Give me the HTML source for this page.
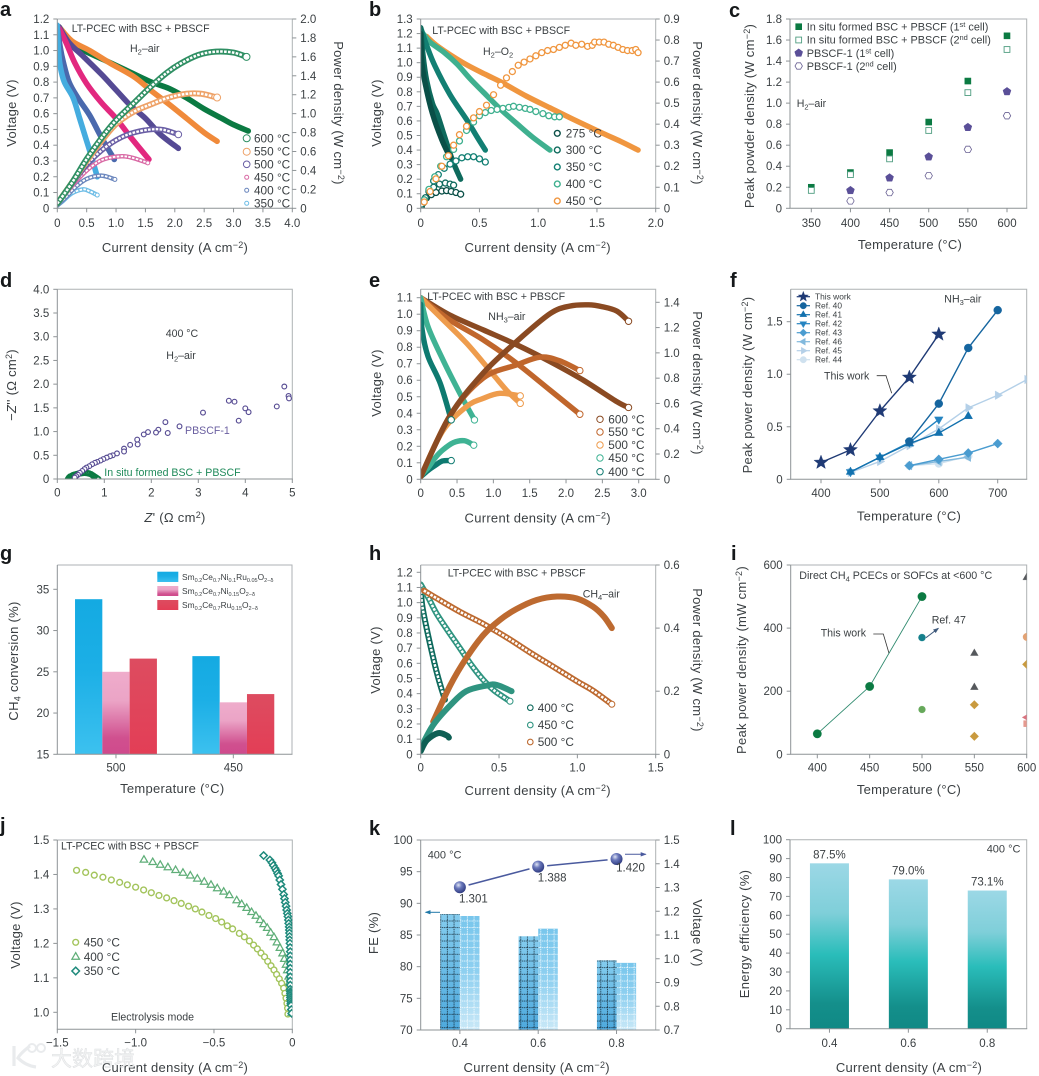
<!DOCTYPE html>
<html lang="en">
<head>
<meta charset="utf-8">
<title>LT-PCEC performance figure</title>
<style>
html,body{margin:0;padding:0;background:#fff}
svg{display:block}
text{font-family:"Liberation Sans","Noto Sans CJK SC",sans-serif;fill:#3a3f42;font-size:10.6px}
.tick{font-size:11.5px}
.title{font-size:13px;letter-spacing:.28px}
.legend{font-size:11.8px}
.letter{font-size:20px;font-weight:700;fill:#15181a}
.note{font-size:10.6px}
.mid{text-anchor:middle}
</style>
</head>
<body>
<svg id="figure" width="1039" height="1076" viewBox="0 0 1039 1076" xmlns="http://www.w3.org/2000/svg">
<defs>
<linearGradient id="gBlue" x1="0" y1="0" x2="0" y2="1"><stop offset="0" stop-color="#14aae2"/><stop offset=".45" stop-color="#1cafe6"/><stop offset="1" stop-color="#3cc1ef"/></linearGradient>
<linearGradient id="gPink" x1="0" y1="0" x2="0" y2="1"><stop offset="0" stop-color="#efaccb"/><stop offset=".35" stop-color="#eba4c6"/><stop offset=".8" stop-color="#d0508f"/><stop offset="1" stop-color="#cf4a8c"/></linearGradient>
<linearGradient id="gRed" x1="0" y1="0" x2="0" y2="1"><stop offset="0" stop-color="#dd4c60"/><stop offset="1" stop-color="#e33e56"/></linearGradient>
<linearGradient id="lTeal" x1="0" y1="0" x2="0" y2="1"><stop offset="0" stop-color="#9cd8e6"/><stop offset=".3" stop-color="#7fcfd9"/><stop offset=".55" stop-color="#2abdba"/><stop offset=".85" stop-color="#148f8b"/><stop offset="1" stop-color="#108985"/></linearGradient>
<linearGradient id="kDark" x1="0" y1="0" x2="0" y2="1"><stop offset="0" stop-color="#84ccee"/><stop offset="1" stop-color="#4ea9dd"/></linearGradient>
<linearGradient id="kLight" x1="0" y1="0" x2="0" y2="1"><stop offset="0" stop-color="#78c6ec"/><stop offset=".5" stop-color="#8fd0f0"/><stop offset="1" stop-color="#c9e8f7"/></linearGradient>
<pattern id="kGridDark" width="6.67" height="6.67" patternUnits="userSpaceOnUse">
<path d="M0 .5H6.67M.5 0V6.67" fill="none" stroke="#10202c" stroke-width=".8" stroke-dasharray="1 .8"/>
</pattern>
<pattern id="kGridLight" width="6.67" height="6.67" patternUnits="userSpaceOnUse">
<path d="M0 .5H6.67M.5 0V6.67" fill="none" stroke="#ffffff" stroke-width=".8" stroke-dasharray="1 .8"/>
</pattern>
<radialGradient id="sphere" cx=".38" cy=".32" r=".7"><stop offset="0" stop-color="#dfe4f4"/><stop offset=".4" stop-color="#6a78bb"/><stop offset="1" stop-color="#2e3a80"/></radialGradient>
<marker id="arrowBlue" viewBox="0 0 6 6" refX="5" refY="3" markerWidth="6" markerHeight="6" orient="auto"><path d="M0 .8L6 3L0 5.2Z" fill="#4a5a9e"/></marker>
<marker id="arrowTeal" viewBox="0 0 6 6" refX="5" refY="3" markerWidth="6" markerHeight="6" orient="auto"><path d="M0 .8L6 3L0 5.2Z" fill="#1f78a8"/></marker>
<marker id="arrowSlate" viewBox="0 0 6 6" refX="5" refY="3" markerWidth="6" markerHeight="6" orient="auto"><path d="M0 .8L6 3L0 5.2Z" fill="#3f5a7c"/></marker>
</defs>

<g id="panel-a">
<g id="marks-a"></g>
<text class="letter" x="0" y="16">a</text>
<text class="note" x="71.7" y="32">LT-PCEC with BSC + PBSCF</text>
<text class="note" x="130" y="52">H<tspan dy="2.5" font-size="7.5">2</tspan><tspan dy="-2.5">–air</tspan></text>
<text class="title mid" x="175" y="252">Current density (A cm<tspan dy="-4" font-size="9">−2</tspan><tspan dy="4">)</tspan></text>
<text class="title mid" transform="rotate(-90 16 113)" x="16" y="113">Voltage (V)</text>
<text class="title mid" transform="rotate(90 334 113)" x="334" y="113">Power density (W cm<tspan dy="-4" font-size="9">−2</tspan><tspan dy="4">)</tspan></text>
<text class="legend" x="254" y="142.5">600 °C</text>
<text class="legend" x="254" y="155.7">550 °C</text>
<text class="legend" x="254" y="168.5">500 °C</text>
<text class="legend" x="254" y="181.5">450 °C</text>
<text class="legend" x="254" y="194.5">400 °C</text>
<text class="legend" x="254" y="207.3">350 °C</text>
</g>

<g id="panel-b">
<g id="marks-b"></g>
<text class="letter" x="369" y="16">b</text>
<text class="note" x="432.3" y="34">LT-PCEC with BSC + PBSCF</text>
<text class="note" x="483" y="55">H<tspan dy="2.5" font-size="7.5">2</tspan><tspan dy="-2.5">–O</tspan><tspan dy="2.5" font-size="7.5">2</tspan></text>
<text class="title mid" x="537.7" y="252">Current density (A cm<tspan dy="-4" font-size="9">−2</tspan><tspan dy="4">)</tspan></text>
<text class="title mid" transform="rotate(-90 381 113)" x="381" y="113">Voltage (V)</text>
<text class="title mid" transform="rotate(90 693 113)" x="693" y="113">Power density (W cm<tspan dy="-4" font-size="9">−2</tspan><tspan dy="4">)</tspan></text>
<text class="legend" x="565.7" y="137.5">275 °C</text>
<text class="legend" x="565.7" y="154.2">300 °C</text>
<text class="legend" x="565.7" y="171.2">350 °C</text>
<text class="legend" x="565.7" y="188.2">400 °C</text>
<text class="legend" x="565.7" y="205.2">450 °C</text>
</g>

<g id="panel-c">
<g id="marks-c"></g>
<text class="letter" x="729" y="17">c</text>
<text class="title mid" x="910" y="249">Temperature (°C)</text>
<text class="title mid" transform="rotate(-90 754 116)" x="754" y="116">Peak powder density (W cm<tspan dy="-4" font-size="9">−2</tspan><tspan dy="4">)</tspan></text>
<text x="806.7" y="30.5" style="font-size:10.9px">In situ formed BSC + PBSCF (1<tspan dy="-3.5" font-size="7.5">st</tspan><tspan dy="3.5"> cell)</tspan></text>
<text x="806.7" y="43.7" style="font-size:10.9px">In situ formed BSC + PBSCF (2<tspan dy="-3.5" font-size="7.5">nd</tspan><tspan dy="3.5"> cell)</tspan></text>
<text x="806.7" y="56.8" style="font-size:10.9px">PBSCF-1 (1<tspan dy="-3.5" font-size="7.5">st</tspan><tspan dy="3.5"> cell)</tspan></text>
<text x="806.7" y="70" style="font-size:10.9px">PBSCF-1 (2<tspan dy="-3.5" font-size="7.5">nd</tspan><tspan dy="3.5"> cell)</tspan></text>
<text class="note" x="796.7" y="107">H<tspan dy="2.5" font-size="7.5">2</tspan><tspan dy="-2.5">–air</tspan></text>
</g>

<g id="panel-d">
<g id="marks-d"></g>
<text class="letter" x="0" y="287">d</text>
<text class="note" x="165.7" y="337">400 °C</text>
<text class="note" x="166.3" y="359">H<tspan dy="2.5" font-size="7.5">2</tspan><tspan dy="-2.5">–air</tspan></text>
<text class="note" x="185" y="434" style="fill:#6a5fa0">PBSCF-1</text>
<text class="note" x="104.3" y="476" style="fill:#1f8a5a">In situ formed BSC + PBSCF</text>
<text class="title mid" x="175" y="522"><tspan font-style="italic">Z</tspan>' (Ω cm<tspan dy="-4" font-size="9">2</tspan><tspan dy="4">)</tspan></text>
<text class="title mid" transform="rotate(-90 16 385)" x="16" y="385">−<tspan font-style="italic">Z</tspan>'' (Ω cm<tspan dy="-4" font-size="9">2</tspan><tspan dy="4">)</tspan></text>
</g>

<g id="panel-e">
<g id="marks-e"></g>
<text class="letter" x="369" y="287">e</text>
<text class="note" x="427.3" y="300">LT-PCEC with BSC + PBSCF</text>
<text class="note" x="488.3" y="320">NH<tspan dy="2.5" font-size="7.5">3</tspan><tspan dy="-2.5">–air</tspan></text>
<text class="title mid" x="537.7" y="522.3">Current density (A cm<tspan dy="-4" font-size="9">−2</tspan><tspan dy="4">)</tspan></text>
<text class="title mid" transform="rotate(-90 381 383)" x="381" y="383">Voltage (V)</text>
<text class="title mid" transform="rotate(90 693 383)" x="693" y="383">Power density (W cm<tspan dy="-4" font-size="9">−2</tspan><tspan dy="4">)</tspan></text>
<text class="legend" x="608.3" y="423.5">600 °C</text>
<text class="legend" x="608.3" y="436.2">550 °C</text>
<text class="legend" x="608.3" y="449.2">500 °C</text>
<text class="legend" x="608.3" y="462.2">450 °C</text>
<text class="legend" x="608.3" y="475.9">400 °C</text>
</g>

<g id="panel-f">
<g id="marks-f"></g>
<text class="letter" x="730" y="287">f</text>
<text class="note" x="944.3" y="302.7">NH<tspan dy="2.5" font-size="7.5">3</tspan><tspan dy="-2.5">–air</tspan></text>
<text class="note" x="824" y="379.3">This work</text>
<path d="M876.7 375.7H886L891.7 393.3" fill="none" stroke="#333" stroke-width=".8"/>
<text class="title mid" x="909" y="520.7">Temperature (°C)</text>
<text class="title mid" transform="rotate(-90 752 385)" x="752" y="385">Peak power density (W cm<tspan dy="-4" font-size="9">−2</tspan><tspan dy="4">)</tspan></text>
<text x="815" y="299.7" style="font-size:8.4px">This work</text>
<text x="815" y="308.7" style="font-size:8.4px">Ref. 40</text>
<text x="815" y="317.7" style="font-size:8.4px">Ref. 41</text>
<text x="815" y="326.7" style="font-size:8.4px">Ref. 42</text>
<text x="815" y="335.7" style="font-size:8.4px">Ref. 43</text>
<text x="815" y="344.7" style="font-size:8.4px">Ref. 46</text>
<text x="815" y="353.7" style="font-size:8.4px">Ref. 45</text>
<text x="815" y="362.7" style="font-size:8.4px">Ref. 44</text>
</g>

<g id="panel-g">
<g id="marks-g"></g>
<text class="letter" x="0" y="560">g</text>
<rect x="157.3" y="571.7" width="21" height="10.3" fill="url(#gBlue)"/>
<rect x="157.3" y="586" width="21" height="10" fill="url(#gPink)"/>
<rect x="157.3" y="600" width="21" height="10" fill="url(#gRed)"/>
<text x="182" y="580" style="font-size:8.4px">Sm<tspan dy="2" font-size="5.5">0.2</tspan><tspan dy="-2">Ce</tspan><tspan dy="2" font-size="5.5">0.7</tspan><tspan dy="-2">Ni</tspan><tspan dy="2" font-size="5.5">0.1</tspan><tspan dy="-2">Ru</tspan><tspan dy="2" font-size="5.5">0.05</tspan><tspan dy="-2">O</tspan><tspan dy="2" font-size="5.5">2−δ</tspan></text>
<text x="182" y="594" style="font-size:8.4px">Sm<tspan dy="2" font-size="5.5">0.2</tspan><tspan dy="-2">Ce</tspan><tspan dy="2" font-size="5.5">0.7</tspan><tspan dy="-2">Ni</tspan><tspan dy="2" font-size="5.5">0.15</tspan><tspan dy="-2">O</tspan><tspan dy="2" font-size="5.5">2−δ</tspan></text>
<text x="182" y="608" style="font-size:8.4px">Sm<tspan dy="2" font-size="5.5">0.2</tspan><tspan dy="-2">Ce</tspan><tspan dy="2" font-size="5.5">0.7</tspan><tspan dy="-2">Ru</tspan><tspan dy="2" font-size="5.5">0.15</tspan><tspan dy="-2">O</tspan><tspan dy="2" font-size="5.5">2−δ</tspan></text>
<text class="title mid" x="172.3" y="793">Temperature (°C)</text>
<text class="title mid" transform="rotate(-90 18 661)" x="18" y="661">CH<tspan dy="2.5" font-size="9">4</tspan><tspan dy="-2.5"> conversion (%)</tspan></text>
</g>

<g id="panel-h">
<g id="marks-h"></g>
<text class="letter" x="369" y="560">h</text>
<text class="note" x="447.7" y="576.7">LT-PCEC with BSC + PBSCF</text>
<text class="note" x="582.7" y="597.7">CH<tspan dy="2.5" font-size="7.5">4</tspan><tspan dy="-2.5">–air</tspan></text>
<text class="title mid" x="537.7" y="795">Current density (A cm<tspan dy="-4" font-size="9">−2</tspan><tspan dy="4">)</tspan></text>
<text class="title mid" transform="rotate(-90 380 660)" x="380" y="660">Voltage (V)</text>
<text class="title mid" transform="rotate(90 693 660)" x="693" y="660">Power density (W cm<tspan dy="-4" font-size="9">−2</tspan><tspan dy="4">)</tspan></text>
<text class="legend" x="537.7" y="711.9">400 °C</text>
<text class="legend" x="537.7" y="729.2">450 °C</text>
<text class="legend" x="537.7" y="746.2">500 °C</text>
</g>

<g id="panel-i">
<g id="marks-i"></g>
<text class="letter" x="731" y="560">i</text>
<text class="note" x="799.3" y="579" style="font-size:10.7px">Direct CH<tspan dy="2.5" font-size="7.5">4</tspan><tspan dy="-2.5"> PCECs or SOFCs at &lt;600 °C</tspan></text>
<text class="note" x="931.7" y="623.7">Ref. 47</text>
<path d="M926 637.7L938.3 628.3" fill="none" stroke="#3f5a7c" stroke-width="1" marker-end="url(#arrowSlate)"/>
<text class="note" x="820.7" y="636.7">This work</text>
<path d="M873.3 634H883.3L889 653.3" fill="none" stroke="#333" stroke-width=".8"/>
<text class="title mid" x="909" y="794">Temperature (°C)</text>
<text class="title mid" transform="rotate(-90 746 660)" x="746" y="660">Peak power density (mW cm<tspan dy="-4" font-size="9">−2</tspan><tspan dy="4">)</tspan></text>
</g>

<g id="panel-j">
<g id="marks-j"></g>
<text class="letter" x="0" y="832">j</text>
<text class="note" x="61" y="849.3">LT-PCEC with BSC + PBSCF</text>
<text class="note" x="111" y="1020.3">Electrolysis mode</text>
<text class="legend" x="83.7" y="946.5">450 °C</text>
<text class="legend" x="83.7" y="960.9">400 °C</text>
<text class="legend" x="83.7" y="975.2">350 °C</text>
<text class="title mid" x="175" y="1072">Current density (A cm<tspan dy="-4" font-size="9">−2</tspan><tspan dy="4">)</tspan></text>
<text class="title mid" transform="rotate(-90 20 935)" x="20" y="935">Voltage (V)</text>
</g>

<g id="panel-k">
<g id="marks-k"></g>
<text class="letter" x="369" y="835">k</text>
<text class="note" x="427.7" y="858.3" style="font-size:11px">400 °C</text>
<path d="M625 854.3H645.7" fill="none" stroke="#4a5a9e" stroke-width="1" marker-end="url(#arrowBlue)"/>
<path d="M440 912.3H425.7" fill="none" stroke="#1f78a8" stroke-width="1" marker-end="url(#arrowTeal)"/>
<text class="title mid" x="536.7" y="1072">Current density (A cm<tspan dy="-4" font-size="9">−2</tspan><tspan dy="4">)</tspan></text>
<text class="title mid" transform="rotate(-90 378 933)" x="378" y="933">FE (%)</text>
<text class="title mid" transform="rotate(90 693 933)" x="693" y="933">Voltage (V)</text>
</g>

<g id="panel-l">
<g id="marks-l"></g>
<text class="letter" x="730" y="835">l</text>
<text class="note" x="986.7" y="852.3" style="font-size:11px">400 °C</text>
<text class="title mid" x="909" y="1072">Current density (A cm<tspan dy="-4" font-size="9">−2</tspan><tspan dy="4">)</tspan></text>
<text class="title mid" transform="rotate(-90 749 934)" x="749" y="934">Energy efficiency (%)</text>
</g>

<g opacity=".92">
<path d="M14 1046V1066M30 1046C22 1052 19 1056 18 1058C22 1062 28 1066 36 1067" fill="none" stroke="#e8eaec" stroke-width="3.2"/>
<circle cx="32" cy="1048" r="4" fill="none" stroke="#e8eaec" stroke-width="2"/>
<circle cx="41" cy="1048" r="4" fill="none" stroke="#e8eaec" stroke-width="2"/>
<text x="51" y="1066" style="font-size:21px;fill:#f1f2f3;stroke:#dcdee0;stroke-width:.5;font-family:'Liberation Sans','Noto Sans CJK SC',sans-serif">大数跨境</text>
</g>
</svg>

<script>
/* ---------- panel a: H2-air ---------- */
const aVTicks=[0,.1,.2,.3,.4,.5,.6,.7,.8,.9,1,1.1,1.2];
const aPTicks=[0,.2,.4,.6,.8,1,1.2,1.4,1.6,1.8,2];
const aITicks=[0,.5,1,1.5,2,2.5,3,3.5,4];
const aV600I=[.03,.2,.4,.8,1.2,1.6,1.9,2.2,2.5,2.8,3,3.25];
const aV600U=[1.15,1.07,1.01,.94,.87,.8,.76,.7,.63,.57,.53,.49];
const aV550I=[.03,.25,.55,.9,1.3,1.6,1.9,2.2,2.5,2.72];
const aV550U=[1.15,1.06,1,.92,.835,.745,.66,.57,.48,.425];
const aV500I=[.03,.2,.45,.75,1,1.25,1.5,1.75,2.06];
const aV500U=[1.15,1.05,.96,.85,.75,.65,.57,.47,.38];
const aV450I=[.03,.15,.3,.5,.75,1,1.25,1.56];
const aV450U=[1.14,1.05,.92,.79,.67,.57,.45,.31];
const aV400I=[0,.05,.1,.2,.35,.55,.75,.97];
const aV400U=[1.15,1.02,.93,.8,.7,.59,.45,.31];
const aV350I=[0,.02,.05,.12,.27,.38,.48,.58,.68];
const aV350U=[1.16,1,.9,.8,.7,.57,.45,.33,.2];
const aP600I=[0,.25,.5,.75,1,1.3,1.6,1.86,2.1,2.4,2.7,3,3.22];
const aP600P=[.05,.27,.52,.74,.93,1.11,1.29,1.43,1.53,1.62,1.655,1.645,1.6];
const aP550I=[0,.25,.5,.75,1,1.3,1.6,1.9,2.2,2.45,2.72];
const aP550P=[.05,.27,.5,.71,.89,1.02,1.1,1.17,1.21,1.21,1.17];
const aP500I=[0,.25,.5,.75,1,1.25,1.55,1.8,2.06];
const aP500P=[.05,.26,.46,.61,.72,.79,.83,.83,.78];
const aP450I=[0,.2,.4,.6,.8,1.1,1.3,1.54];
const aP450P=[.05,.2,.34,.45,.52,.55,.53,.48];
const aP400I=[0,.15,.3,.5,.75,.98];
const aP400P=[.03,.12,.22,.31,.345,.305];
const aP350I=[0,.1,.25,.44,.55,.68];
const aP350P=[.03,.08,.16,.2,.18,.14];

/* ---------- panel b: H2-O2 ---------- */
const bVTicks=[0,.1,.2,.3,.4,.5,.6,.7,.8,.9,1,1.1,1.2,1.3];
const bPTicks=[0,.1,.2,.3,.4,.5,.6,.7,.8,.9];
const bITicks=[0,.5,1,1.5,2];
const bV450I=[.05,.15,.36,.55,.7,.9,1.1,1.3,1.55,1.7,1.85];
const bV450U=[1.18,1.11,1,.92,.86,.77,.69,.61,.515,.46,.4];
const bV400I=[.02,.08,.2,.31,.42,.53,.68,.82,.95,1.1];
const bV400U=[1.2,1.14,1.07,.99,.89,.8,.68,.58,.49,.4];
const bV350I=[0,.05,.12,.25,.39,.48,.55];
const bV350U=[1.24,1.12,.98,.78,.61,.49,.4];
const bV300I=[0,.02,.05,.1,.14,.2,.27,.34];
const bV300U=[1.24,1.05,.88,.72,.65,.5,.33,.2];
const bV275I=[0,.01,.04,.1,.18,.25];
const bV275U=[1.2,1,.85,.65,.47,.35];
const bP450I=[.03,.08,.13,.18,.235,.28,.33,.39,.45,.5,.56,.62,.68,.73,.78,.83,.88,.93,.98,1.03,1.08,1.13,1.18,1.23,1.28,1.32,1.37,1.42,1.46,1.48,1.52,1.56,1.6,1.64,1.68,1.72,1.76,1.8,1.83,1.85];
const bP450P=[.03,.08,.14,.2,.25,.3,.35,.39,.43,.46,.49,.54,.585,.62,.65,.68,.695,.71,.725,.74,.75,.755,.765,.775,.785,.775,.78,.77,.775,.79,.79,.79,.78,.775,.765,.755,.75,.75,.755,.74];
const bP400I=[.03,.07,.12,.17,.22,.28,.33,.39,.45,.5,.55,.6,.65,.7,.75,.79,.84,.89,.93,.98,1.04,1.09,1.14,1.18];
const bP400P=[.04,.09,.15,.2,.245,.28,.32,.37,.41,.44,.455,.465,.47,.475,.48,.485,.48,.475,.47,.46,.45,.44,.435,.435];
const bP350I=[.03,.07,.11,.15,.2,.25,.3,.35,.4,.45,.5,.55];
const bP350P=[.04,.085,.13,.16,.19,.21,.225,.24,.245,.245,.235,.22];
const bP300I=[.01,.04,.07,.11,.16,.21,.25,.28];
const bP300P=[.02,.05,.08,.1,.115,.12,.115,.11];
const bP275I=[.005,.02,.05,.09,.13,.18,.22,.26,.3,.34];
const bP275P=[.008,.025,.05,.065,.075,.082,.084,.08,.075,.067];

/* ---------- panel c: peak power vs temperature ---------- */
const cTemps=[350,400,450,500,550,600];
const cYTicks=[0,.2,.4,.6,.8,1,1.2,1.4,1.6,1.8];
const cBsc1=[.2,.34,.53,.82,1.21,1.64];
const cBsc2=[.17,.32,.47,.74,1.1,1.51];
const cPbscfTemps=[400,450,500,550,600];
const cPbscf1=[.17,.29,.49,.77,1.11];
const cPbscf2=[.07,.15,.31,.56,.88];

/* ---------- panel d: impedance ---------- */
const dXTicks=[0,1,2,3,4,5];
const dYTicks=[0,.5,1,1.5,2,2.5,3,3.5,4];
const dPbscfRe=[4.83,4.92,4.93,4.67,3.65,3.77,4,4.07,3.86,3.1,2.3,2.6,2.35,2.15,2.1,1.93,1.84,1.7,1.71,1.55,1.42,1.42,1.27,1.18,1.12,1.05,.98,.92,.85,.8,.74,.68,.62,.58,.53,.48,.44,.4,.37];
const dPbscfIm=[1.95,1.75,1.7,1.53,1.65,1.63,1.49,1.41,1.23,1.4,1.2,1.11,.97,1.04,.98,.99,.94,.83,.73,.72,.64,.58,.54,.5,.48,.45,.42,.39,.36,.34,.31,.27,.24,.21,.17,.13,.09,.06,.03];
const dBscRe=[.23,.25,.27,.3,.33,.36,.4,.44,.48,.52,.56,.6,.64,.68,.72,.75,.78,.81,.84,.87];
const dBscIm=[0,.03,.05,.06,.08,.09,.1,.11,.12,.125,.13,.13,.125,.115,.1,.08,.06,.04,.02,0];

/* ---------- panel e: NH3-air ---------- */
const eVTicks=[0,.1,.2,.3,.4,.5,.6,.7,.8,.9,1,1.1];
const ePTicks=[0,.2,.4,.6,.8,1,1.2,1.4];
const eITicks=[0,.5,1,1.5,2,2.5,3];
const eV600I=[0,.4,.86,1.32,1.78,2.24,2.7,2.86];
const eV600U=[1.1,.995,.905,.815,.713,.6,.47,.435];
const eV550I=[0,.4,.86,1.32,1.78,2.19];
const eV550U=[1.1,.965,.845,.703,.54,.394];
const eV500I=[0,.31,.63,.95,1.18,1.37];
const eV500U=[1.1,.965,.825,.66,.54,.46];
const eV450I=[0,.1,.31,.54,.74];
const eV450U=[1.1,.925,.72,.52,.36];
const eV400I=[0,.02,.1,.27,.42];
const eV400U=[1.06,.905,.745,.58,.36];
const eP600I=[0,.4,.86,1.32,1.78,2.05,2.31,2.5,2.7,2.86];
const eP600P=[.02,.5,.84,1.09,1.31,1.37,1.38,1.365,1.33,1.25];
const eP550I=[0,.4,.86,1.32,1.64,1.9,2.19];
const eP550P=[.02,.5,.8,.905,.966,.94,.86];
const eP500I=[0,.3,.63,.86,1.09,1.37];
const eP500P=[.02,.38,.575,.64,.68,.66];
const eP450I=[0,.1,.2,.3,.45,.6,.73];
const eP450P=[.03,.09,.17,.23,.29,.305,.27];
const eP400I=[0,.1,.2,.3,.42];
const eP400P=[.02,.07,.11,.145,.148];

/* ---------- panel f: NH3 comparison ---------- */
const fXTicks=[400,500,600,700];
const fYTicks=[0,.5,1,1.5];
const fThisT=[400,450,500,550,600];
const fThisP=[.16,.28,.65,.97,1.38];
const fRef40T=[550,600,650,700];
const fRef40P=[.36,.72,1.25,1.61];
const fRef41T=[450,500,550,600,650];
const fRef41P=[.07,.21,.34,.44,.6];
const fRef42T=[450,500,550,600];
const fRef42P=[.07,.21,.35,.57];
const fRef43T=[550,600,650,700];
const fRef43P=[.13,.19,.25,.34];
const fRef46T=[550,600,650];
const fRef46P=[.13,.17,.21];
const fRef45T=[450,500,550,600,650,700,750];
const fRef45P=[.065,.17,.32,.48,.68,.8,.95];
const fRef44T=[550,600,650];
const fRef44P=[.13,.15,.22];

/* ---------- panel g: CH4 conversion ---------- */
const gCategories=['500','450'];
const gYTicks=[15,20,25,30,35];
const gNiRu=[33.8,26.9];
const gNi=[25,21.3];
const gRu=[26.6,22.3];

/* ---------- panel h: CH4-air ---------- */
const hVTicks=[0,.1,.2,.3,.4,.5,.6,.7,.8,.9,1,1.1,1.2];
const hPTicks=[0,.2,.4,.6];
const hITicks=[0,.5,1,1.5];
const hV500I=[.02,.1,.25,.4,.55,.7,.85,1,1.1,1.22];
const hV500U=[1.08,1.03,.94,.86,.77,.67,.575,.48,.42,.33];
const hV450I=[0,.05,.1,.17,.25,.33,.4,.47,.57];
const hV450U=[1.12,1.03,.93,.82,.7,.58,.49,.42,.35];
const hV400I=[0,.01,.04,.07,.1,.13,.155];
const hV400U=[1.1,.98,.82,.68,.55,.44,.36];
const hP500I=[.08,.19,.29,.4,.506,.61,.74,.87,.995,1.1,1.17,1.22];
const hP500P=[.1035,.22,.304,.378,.426,.46,.489,.5,.494,.468,.436,.4];
const hP450I=[0,.08,.19,.29,.42,.485,.58];
const hP450P=[.02,.093,.156,.2,.218,.22,.2];
const hP400I=[0,.04,.11,.165,.18];
const hP400P=[.01,.045,.067,.06,.053];

/* ---------- panel i: CH4 comparison ---------- */
const iXTicks=[400,450,500,550,600];
const iYTicks=[0,200,400,600];
const iThisT=[400,450,500];
const iThisP=[65,215,500];
const iRef47T=[500];
const iRef47P=[370];
const iGreenT=[500];
const iGreenP=[142];
const iTriT=[550,550,600];
const iTriP=[320,212,560];
const iDiaT=[550,550,600];
const iDiaP=[157,57,285];
const iOrangeT=[600];
const iOrangeP=[372];
const iLeftT=[600];
const iLeftP=[117];
const iSquareT=[600];
const iSquareP=[97];

/* ---------- panel j: electrolysis ---------- */
const jXTicks=[-1.5,-1,-.5,0];
const jXLabels=['−1.5','−1.0','−0.5','0'];
const jYTicks=[1,1.1,1.2,1.3,1.4,1.5];
const j450I=[-1.377,-1.319,-1.264,-1.209,-1.155,-1.102,-1.053,-1,-.949,-.9,-.851,-.802,-.755,-.709,-.662,-.619,-.577,-.532,-.489,-.451,-.415,-.381,-.338,-.306,-.274,-.247,-.223,-.2,-.177,-.157,-.136,-.117,-.1,-.083,-.068,-.055,-.047,-.04,-.034,-.03,-.028];
const j450U=[1.412,1.406,1.398,1.392,1.384,1.377,1.37,1.363,1.355,1.347,1.339,1.332,1.324,1.316,1.308,1.3,1.291,1.281,1.272,1.262,1.251,1.242,1.229,1.219,1.207,1.195,1.184,1.172,1.161,1.148,1.135,1.123,1.11,1.097,1.084,1.07,1.055,1.041,1.026,1.012,.995];
const j400I=[-.947,-.891,-.843,-.794,-.745,-.698,-.651,-.606,-.562,-.519,-.479,-.438,-.402,-.355,-.323,-.291,-.26,-.232,-.206,-.183,-.16,-.138,-.117,-.098,-.079,-.062,-.051,-.04,-.032,-.023,-.019,-.015,-.011,-.006,-.004];
const j400U=[1.442,1.435,1.427,1.42,1.412,1.404,1.396,1.387,1.378,1.369,1.359,1.349,1.339,1.324,1.313,1.302,1.29,1.279,1.267,1.255,1.244,1.23,1.217,1.202,1.186,1.17,1.154,1.137,1.121,1.103,1.086,1.07,1.05,1.031,.997];
const j350I=[-.183,-.143,-.13,-.121,-.11,-.102,-.094,-.087,-.08,-.072,-.063,-.055,-.05,-.045,-.04,-.036,-.032,-.028,-.025,-.023,-.02,-.019,-.018,-.017,-.016,-.015,-.014,-.013,-.013,-.013,-.013,-.013,-.013,-.013,-.013,-.013,-.013,-.012,-.012,-.012,-.011,-.011,-.01,-.009,-.008,-.006,-.004];
const j350U=[1.455,1.442,1.434,1.426,1.418,1.411,1.403,1.396,1.384,1.371,1.357,1.342,1.33,1.319,1.308,1.297,1.287,1.278,1.268,1.258,1.248,1.239,1.23,1.22,1.21,1.2,1.188,1.176,1.164,1.152,1.14,1.128,1.116,1.103,1.091,1.079,1.067,1.06,1.055,1.049,1.043,1.037,1.031,1.025,1.02,1.008,.997];

/* ---------- panel k: faradaic efficiency ---------- */
const kCategories=['0.4','0.6','0.8'];
const kFeTicks=[70,75,80,85,90,95,100];
const kVoltTicks=[.7,.8,.9,1,1.1,1.2,1.3,1.4,1.5];
const kFeA=[88.3,84.8,81];
const kFeB=[88,86,80.6];
const kVoltage=[1.301,1.388,1.42];

/* ---------- panel l: energy efficiency ---------- */
const lCategories=['0.4','0.6','0.8'];
const lTicks=[0,10,20,30,40,50,60,70,80,90,100];
const lValues=[87.5,79,73.1];

/* ---------- helpers ---------- */
const NS='http://www.w3.org/2000/svg';
function mk(tag,attrs,parent,name){
  const el=document.createElementNS(NS,tag);
  for(const k in attrs){el.setAttribute(k,attrs[k]);}
  
  
  parent.appendChild(el);
  return el;
}
function lin(d0,d1,r0,r1){return v=>r0+(v-d0)*(r1-r0)/(d1-d0);}
function band(n,r0,r1){return i=>r0+(i+.5)*(r1-r0)/n;}
function f1(v){return v===0?'0':v.toFixed(1);}
function f0(v){return String(v);}
const AX='#8e9396', FR='#aeb2b4';
function frame(id,x0,x1,y0,y1){
  const g=document.getElementById('marks-'+id);
  mk('path',{d:`M${x0} ${y1}H${x1}V${y0}`,fill:'none',stroke:FR,'stroke-width':1},g,'plot-frame');
  const cp=mk('clipPath',{id:'clip-'+id},g,'plot-clip');
  mk('rect',{x:x0,y:y1,width:x1-x0,height:y0-y1},cp,'plot-clip-rect');
  const data=mk('g',{'clip-path':`url(#clip-${id})`},g,'plot-data');
  return {g,data,x0,x1,y0,y1};
}
function axisLeft(p,ticks,S,fmt){
  mk('line',{x1:p.x0,x2:p.x0,y1:p.y1,y2:p.y0,stroke:AX,'stroke-width':1},p.g,'y-axis-line');
  ticks.forEach(v=>{
    const y=S(v);
    mk('line',{x1:p.x0-4,x2:p.x0,y1:y,y2:y,stroke:AX,'stroke-width':1},p.g,'y-tick');
    const t=mk('text',{x:p.x0-8,y:y+4,class:'tick','text-anchor':'end'},p.g,'y-tick-label');
    t.textContent=fmt(v);
  });
}
function axisRight(p,ticks,S,fmt){
  ticks.forEach(v=>{
    const y=S(v);
    mk('line',{x1:p.x1,x2:p.x1+4,y1:y,y2:y,stroke:AX,'stroke-width':1},p.g,'right-tick');
    const t=mk('text',{x:p.x1+8,y:y+4,class:'tick'},p.g,'right-tick-label');
    t.textContent=fmt(v);
  });
}
function axisBottom(p,ticks,S,labels,ly){
  mk('line',{x1:p.x0-.5,x2:p.x1+.5,y1:p.y0,y2:p.y0,stroke:AX,'stroke-width':1},p.g,'x-axis-line');
  ticks.forEach((v,i)=>{
    const x=S(v);
    mk('line',{x1:x,x2:x,y1:p.y0,y2:p.y0+4,stroke:AX,'stroke-width':1},p.g,'x-tick');
    const t=mk('text',{x:x,y:ly,class:'tick','text-anchor':'middle'},p.g,'x-tick-label');
    t.textContent=labels(v,i);
  });
}
function smoothPath(xs,ys,X,Y){
  const P=xs.map((v,i)=>[X(v),Y(ys[i])]);
  let d='M'+P[0][0].toFixed(2)+' '+P[0][1].toFixed(2);
  for(let i=0;i<P.length-1;i++){
    const a=P[Math.max(i-1,0)],b=P[i],c=P[i+1],e=P[Math.min(i+2,P.length-1)];
    const c1x=b[0]+(c[0]-a[0])/6,c1y=b[1]+(c[1]-a[1])/6,c2x=c[0]-(e[0]-b[0])/6,c2y=c[1]-(e[1]-b[1])/6;
    d+=`C${c1x.toFixed(2)} ${c1y.toFixed(2)} ${c2x.toFixed(2)} ${c2y.toFixed(2)} ${c[0].toFixed(2)} ${c[1].toFixed(2)}`;
  }
  return d;
}
function curve(p,xs,ys,X,Y,color,w,name){
  return mk('path',{d:smoothPath(xs,ys,X,Y),fill:'none',stroke:color,'stroke-width':w,'stroke-linejoin':'round','stroke-linecap':'round'},p.data,name);
}
function straight(p,xs,ys,X,Y,color,w,name){
  const pts=xs.map((v,i)=>X(v)+','+Y(ys[i])).join(' ');
  return mk('polyline',{points:pts,fill:'none',stroke:color,'stroke-width':w,'stroke-linejoin':'round'},p.data,name);
}
function ring(p,xs,ys,X,Y,color,w,name){
  const d=smoothPath(xs,ys,X,Y);
  mk('path',{d:d,fill:'none',stroke:color,'stroke-width':w,'stroke-linejoin':'round','stroke-linecap':'round'},p.data,name);
  mk('path',{d:d,fill:'none',stroke:'#fff','stroke-width':w*.42,'stroke-linejoin':'round','stroke-dasharray':'2.6 1.3'},p.data,name+'-inner');
}
function polyPts(x,y,r,n,rot){
  const a=[];
  for(let i=0;i<n;i++){
    const t=rot+i*2*Math.PI/n;
    a.push((x+r*Math.cos(t)).toFixed(2)+','+(y+r*Math.sin(t)).toFixed(2));
  }
  return a.join(' ');
}
function marker(parent,type,x,y,r,fill,stroke,sw,name){
  const st={fill:fill,stroke:stroke,'stroke-width':sw};
  const up=-Math.PI/2;
  if(type==='circle'){return mk('circle',Object.assign({cx:x,cy:y,r:r},st),parent,name);}
  if(type==='square'){return mk('rect',Object.assign({x:x-r,y:y-r,width:2*r,height:2*r},st),parent,name);}
  const sides={tri:[3,up],down:[3,Math.PI/2],left:[3,Math.PI],right:[3,0],diamond:[4,0],pentagon:[5,up],hexagon:[6,0]};
  if(type==='star'){
    const a=[];
    for(let i=0;i<10;i++){
      const t=up+i*Math.PI/5, q=i%2?r*.42:r;
      a.push((x+q*Math.cos(t)).toFixed(2)+','+(y+q*Math.sin(t)).toFixed(2));
    }
    return mk('polygon',Object.assign({points:a.join(' ')},st),parent,name);
  }
  return mk('polygon',Object.assign({points:polyPts(x,y,r,sides[type][0],sides[type][1])},st),parent,name);
}
function legendMark(id,type,x,y,r,fill,stroke,sw){
  return marker(document.getElementById('marks-'+id),type,x,y,r,fill,stroke,sw,'legend-marker');
}

/* ---------- draw a ---------- */
(function(){
  const p=frame('a',57.3,292.3,208.3,19);
  const X=lin(0,4,57.3,292.3),YL=lin(0,1.2,208.3,19),YR=lin(0,2,208.3,19);
  axisLeft(p,aVTicks,YL,f1);axisRight(p,aPTicks,YR,f1);axisBottom(p,aITicks,X,f1,227);
  curve(p,aV600I,aV600U,X,YL,'#0b7a42',5.6,'voltage-600');
  curve(p,aV550I,aV550U,X,YL,'#f08a3a',5.6,'voltage-550');
  curve(p,aV500I,aV500U,X,YL,'#554a94',5.6,'voltage-500');
  curve(p,aV450I,aV450U,X,YL,'#e2287f',5.6,'voltage-450');
  curve(p,aV400I,aV400U,X,YL,'#4a69ad',5.6,'voltage-400');
  curve(p,aV350I,aV350U,X,YL,'#45acdf',5.6,'voltage-350');
  ring(p,aP350I,aP350P,X,YR,'#6ebde6',4.5,'power-350');
  ring(p,aP400I,aP400P,X,YR,'#6a86bd',4.5,'power-400');
  ring(p,aP450I,aP450P,X,YR,'#d96aa5',4.5,'power-450');
  ring(p,aP500I,aP500P,X,YR,'#6a5fa5',5.5,'power-500');
  ring(p,aP550I,aP550P,X,YR,'#eea268',6,'power-550');
  ring(p,aP600I,aP600P,X,YR,'#2f8f63',6,'power-600');
  const ends=[[aP600I,aP600P,'#2f8f63',3.5],[aP550I,aP550P,'#eea268',3.5],[aP500I,aP500P,'#6a5fa5',3.3],[aP450I,aP450P,'#d96aa5',2],[aP400I,aP400P,'#6a86bd',2],[aP350I,aP350P,'#6ebde6',2]];
  const ly=[138.3,151.7,164.3,177.3,190.3,203.3];
  ends.forEach((e,i)=>{
    const n=e[0].length-1;
    marker(p.data,'circle',X(e[0][n]),YR(e[1][n]),e[3],'#fff',e[2],1,'power-end-marker');
    legendMark('a','circle',246.7,ly[i],e[3],'#fff',e[2],1);
  });
})();

/* ---------- draw b ---------- */
(function(){
  const p=frame('b',420.7,655.7,208.3,19);
  const X=lin(0,2,420.7,655.7),YL=lin(0,1.3,208.3,19),YR=lin(0,.9,208.3,19);
  axisLeft(p,bVTicks,YL,f1);axisRight(p,bPTicks,YR,f1);axisBottom(p,bITicks,X,f1,227);
  curve(p,bV450I,bV450U,X,YL,'#f0963f',5.4,'voltage-450');
  curve(p,bV400I,bV400U,X,YL,'#3fb08f',5.4,'voltage-400');
  curve(p,bV350I,bV350U,X,YL,'#127f73',5.4,'voltage-350');
  curve(p,bV300I,bV300U,X,YL,'#0e6a5d',5.4,'voltage-300');
  curve(p,bV275I,bV275U,X,YL,'#0a4f47',5.4,'voltage-275');
  const sets=[[bP275I,bP275P,'#0a4f47'],[bP300I,bP300P,'#0e6a5d'],[bP350I,bP350P,'#127f73'],[bP400I,bP400P,'#3fb08f'],[bP450I,bP450P,'#f0963f']];
  const ly=[133.3,150,167,184,201];
  sets.forEach((s,k)=>{
    s[0].forEach((v,i)=>{
      marker(p.data,'circle',X(v),YR(s[1][i]),3,'#fff',s[2],1.3,'power-point');
    });
    legendMark('b','circle',557.3,ly[k],2.9,'#fff',s[2],1.4);
  });
})();

/* ---------- draw c ---------- */
(function(){
  const p=frame('c',790,1026.7,208.3,19);
  const X=lin(350,600,811.3,1007),Y=lin(0,1.8,208.3,19);
  axisLeft(p,cYTicks,Y,f1);axisBottom(p,cTemps,X,f0,227);
  cTemps.forEach((t,i)=>{
    marker(p.data,'square',X(t),Y(cBsc1[i]),3,'#0b7a42','#0b7a42',.6,'bsc-first-cell');
    marker(p.data,'square',X(t),Y(cBsc2[i]),2.9,'#fff','#4f9d80',.9,'bsc-second-cell');
  });
  cPbscfTemps.forEach((t,i)=>{
    marker(p.data,'pentagon',X(t),Y(cPbscf1[i]),4.2,'#5a4f98','#5a4f98',.5,'pbscf-first-cell');
    marker(p.data,'hexagon',X(t),Y(cPbscf2[i]),3.7,'#fff','#6a6294',.8,'pbscf-second-cell');
  });
  legendMark('c','square',798.7,26.7,3,'#0b7a42','#0b7a42',.6);
  legendMark('c','square',798.7,40,2.9,'#fff','#4f9d80',.9);
  legendMark('c','pentagon',798.7,53,4.2,'#5a4f98','#5a4f98',.5);
  legendMark('c','hexagon',798.7,66,3.7,'#fff','#6a6294',.8);
})();

/* ---------- draw d ---------- */
(function(){
  const p=frame('d',57.3,292.3,479,289.3);
  const X=lin(0,5,57.3,292.3),Y=lin(0,4,479,289.3);
  axisLeft(p,dYTicks,Y,f1);axisBottom(p,dXTicks,X,f0,496.7);
  dBscRe.forEach((v,i)=>{
    marker(p.data,'circle',X(v),Y(dBscIm[i]),2.3,'#fff','#0b7a42',1.9,'bsc-impedance-point');
  });
  dPbscfRe.forEach((v,i)=>{
    marker(p.data,'circle',X(v),Y(dPbscfIm[i]),2.4,'#fff','#574c93',1.15,'pbscf-impedance-point');
  });
})();

/* ---------- draw e ---------- */
(function(){
  const p=frame('e',420.7,655.7,479.3,289.3);
  const X=lin(0,3,420.7,638.7),YL=lin(0,1.1,479.3,297.7),YR=lin(0,1.4,479.3,302.3);
  axisLeft(p,eVTicks,YL,f1);axisRight(p,ePTicks,YR,f1);axisBottom(p,eITicks,X,f1,497);
  const vs=[[eV600I,eV600U,'#8a4a22','voltage-600'],[eV550I,eV550U,'#c0662c','voltage-550'],[eV500I,eV500U,'#ee9c4d','voltage-500'],[eV450I,eV450U,'#3fb394','voltage-450'],[eV400I,eV400U,'#0e7a70','voltage-400']];
  const ps=[[eP400I,eP400P,'#0e7a70','power-400'],[eP450I,eP450P,'#3fb394','power-450'],[eP500I,eP500P,'#ee9c4d','power-500'],[eP550I,eP550P,'#c0662c','power-550'],[eP600I,eP600P,'#8a4a22','power-600']];
  vs.forEach(s=>{curve(p,s[0],s[1],X,YL,s[2],5.4,s[3]);});
  ps.forEach(s=>{curve(p,s[0],s[1],X,YR,s[2],5.4,s[3]);});
  vs.forEach(s=>{
    const n=s[0].length-1;
    marker(p.data,'circle',X(s[0][n]),YL(s[1][n]),3.2,'#fff',s[2],1,'voltage-end-marker');
  });
  ps.forEach(s=>{
    const n=s[0].length-1;
    marker(p.data,'circle',X(s[0][n]),YR(s[1][n]),3.2,'#fff',s[2],1,'power-end-marker');
  });
  const ly=[419.3,432,445,458,471.7];
  vs.forEach((s,i)=>{legendMark('e','circle',600,ly[i],3.2,'#fff',s[2],1);});
})();

/* ---------- draw f ---------- */
(function(){
  const p=frame('f',790.7,1026.7,479.3,289.3);
  const X=lin(400,700,821,997.7),Y=lin(0,1.5,479.3,321.7);
  axisLeft(p,fYTicks,Y,f1);axisBottom(p,fXTicks,X,f0,497);
  const sets=[
    [fRef44T,fRef44P,'#cfe1ef','circle',4,'ref-44'],
    [fRef45T,fRef45P,'#b4d0e8','right',5,'ref-45'],
    [fRef46T,fRef46P,'#82b9dd','left',5,'ref-46'],
    [fRef43T,fRef43P,'#4a9cd0','diamond',4.6,'ref-43'],
    [fRef42T,fRef42P,'#2584c1','down',5,'ref-42'],
    [fRef41T,fRef41P,'#1271ae','tri',5,'ref-41'],
    [fRef40T,fRef40P,'#15659f','circle',4,'ref-40'],
    [fThisT,fThisP,'#1f3a75','star',7.4,'this-work']
  ];
  sets.forEach(s=>{
    straight(p,s[0],s[1],X,Y,s[2],1.4,s[5]+'-line');
    s[0].forEach((t,i)=>{
      marker(p.data,s[3],X(t),Y(s[1][i]),s[4],s[2],s[2],.4,s[5]+'-point');
    });
  });
  const order=[7,6,5,4,3,2,1,0];
  order.forEach((k,i)=>{
    const s=sets[k];
    const y=296.7+i*9;
    mk('line',{x1:796.7,x2:810,y1:y,y2:y,stroke:s[2],'stroke-width':1.2},p.g,'legend-line');
    legendMark('f',s[3],803.3,y,k===7?5.4:s[4]*.82,s[2],s[2],.3);
  });
})();

/* ---------- draw g ---------- */
(function(){
  const p=frame('g',57.3,292,754.3,565);
  const B=band(2,57.3,292),Y=lin(15,35,754.3,589.3),w=27.3;
  axisLeft(p,gYTicks,Y,f0);
  axisBottom(p,[0,1],B,(v,i)=>gCategories[i],771.7);
  gCategories.forEach((c,i)=>{
    const xc=B(i);
    mk('rect',{x:xc-1.5*w,y:Y(gNiRu[i]),width:w,height:Y(15)-Y(gNiRu[i]),fill:'url(#gBlue)'},p.data,'bar-sm-ce-ni-ru');
    mk('rect',{x:xc-.5*w,y:Y(gNi[i]),width:w,height:Y(15)-Y(gNi[i]),fill:'url(#gPink)'},p.data,'bar-sm-ce-ni');
    mk('rect',{x:xc+.5*w,y:Y(gRu[i]),width:w,height:Y(15)-Y(gRu[i]),fill:'url(#gRed)'},p.data,'bar-sm-ce-ru');
  });
})();

/* ---------- draw h ---------- */
(function(){
  const p=frame('h',420.7,655.7,754.3,565);
  const X=lin(0,1.5,420.7,655.7),YL=lin(0,1.2,754.3,572.3),YR=lin(0,.6,754.3,565);
  axisLeft(p,hVTicks,YL,f1);axisRight(p,hPTicks,YR,f1);axisBottom(p,hITicks,X,f1,771.7);
  ring(p,hV400I,hV400U,X,YL,'#0e6a5d',6,'voltage-400');
  ring(p,hV450I,hV450U,X,YL,'#2f9480',6,'voltage-450');
  ring(p,hV500I,hV500U,X,YL,'#bd6a30',6,'voltage-500');
  curve(p,hP500I,hP500P,X,YR,'#bd6a30',6,'power-500');
  curve(p,hP450I,hP450P,X,YR,'#2f9480',6,'power-450');
  curve(p,hP400I,hP400P,X,YR,'#0e5f54',6,'power-400');
  marker(p.data,'circle',X(.57),YL(.35),3,'#fff','#2f9480',1,'voltage-end-marker');
  marker(p.data,'circle',X(1.22),YL(.33),3,'#fff','#bd6a30',1,'voltage-end-marker');
  legendMark('h','circle',530.3,707.7,2.8,'#fff','#0e6a5d',1.1);
  legendMark('h','circle',530.3,725,2.8,'#fff','#2f9480',1.1);
  legendMark('h','circle',530.3,742,2.8,'#fff','#bd6a30',1.1);
})();

/* ---------- draw i ---------- */
(function(){
  const p=frame('i',790.7,1026.7,754.3,565);
  const X=lin(400,600,817.3,1026.7),Y=lin(0,600,754.3,565);
  axisLeft(p,iYTicks,Y,f0);axisBottom(p,iXTicks,X,f0,771.7);
  straight(p,iThisT,iThisP,X,Y,'#2f8a6e',.9,'this-work-line');
  iThisT.forEach((t,i)=>{marker(p.data,'circle',X(t),Y(iThisP[i]),4.3,'#0b7a42','#0b7a42',.2,'this-work-point');});
  iRef47T.forEach((t,i)=>{marker(p.data,'circle',X(t),Y(iRef47P[i]),3.6,'#15808c','#15808c',.2,'ref-47-point');});
  iGreenT.forEach((t,i)=>{marker(p.data,'circle',X(t),Y(iGreenP[i]),3.5,'#66a85a','#66a85a',.2,'green-point');});
  iTriT.forEach((t,i)=>{marker(p.data,'tri',X(t),Y(iTriP[i]),4.6,'#55585c','#55585c',.2,'grey-triangle-point');});
  iDiaT.forEach((t,i)=>{marker(p.data,'diamond',X(t),Y(iDiaP[i]),4.4,'#c99a3e','#c99a3e',.2,'amber-diamond-point');});
  iOrangeT.forEach((t,i)=>{marker(p.data,'circle',X(t),Y(iOrangeP[i]),3.8,'#e3a273','#e3a273',.2,'orange-point');});
  iLeftT.forEach((t,i)=>{marker(p.data,'left',X(t),Y(iLeftP[i]),4.6,'#d9737f','#d9737f',.2,'red-triangle-point');});
  iSquareT.forEach((t,i)=>{marker(p.data,'square',X(t),Y(iSquareP[i]),3.2,'#e59a90','#e59a90',.2,'salmon-square-point');});
})();

/* ---------- draw j ---------- */
(function(){
  const p=frame('j',57.3,292.3,1029.3,840);
  const X=lin(-1.5,0,57.3,292.3),Y=lin(1,1.5,1012.3,840);
  axisLeft(p,jYTicks,Y,f1);axisBottom(p,jXTicks,X,(v,i)=>jXLabels[i],1046.7);
  j450I.forEach((v,i)=>{marker(p.data,'circle',X(v),Y(j450U[i]),2.9,'#fff','#a3c45c',1.4,'series-450-point');});
  j400I.forEach((v,i)=>{marker(p.data,'tri',X(v),Y(j400U[i]),4.3,'#fff','#5fae78',1.25,'series-400-point');});
  j350I.forEach((v,i)=>{marker(p.data,'diamond',X(v),Y(j350U[i]),3.6,'#fff','#1f8a7c',1.5,'series-350-point');});
  legendMark('j','circle',75.7,942.3,2.9,'#fff','#a3c45c',1.4);
  legendMark('j','tri',75.7,957,4.4,'#fff','#5fae78',1.25);
  legendMark('j','diamond',75.7,971,3.8,'#fff','#1f8a7c',1.5);
})();

/* ---------- draw k ---------- */
(function(){
  const p=frame('k',420.7,655.7,1030,840);
  const B=band(3,420.7,655.7),Y=lin(70,100,1030,840),YV=lin(.7,1.5,1030,840),w=19.6;
  axisLeft(p,kFeTicks,Y,f0);axisRight(p,kVoltTicks,YV,f1);
  axisBottom(p,[0,1,2],B,(v,i)=>kCategories[i],1047);
  kCategories.forEach((c,i)=>{
    const xc=B(i);
    mk('rect',{x:xc-w,y:Y(kFeA[i]),width:w,height:Y(70)-Y(kFeA[i]),fill:'url(#kDark)'},p.data,'fe-bar-dark');
    mk('rect',{x:xc-w,y:Y(kFeA[i]),width:w,height:Y(70)-Y(kFeA[i]),fill:'url(#kGridDark)'},p.data,'fe-bar-dark-grid');
    mk('rect',{x:xc,y:Y(kFeB[i]),width:w,height:Y(70)-Y(kFeB[i]),fill:'url(#kLight)'},p.data,'fe-bar-light');
    mk('rect',{x:xc,y:Y(kFeB[i]),width:w,height:Y(70)-Y(kFeB[i]),fill:'url(#kGridLight)'},p.data,'fe-bar-light-grid');
  });
  for(let i=0;i<kVoltage.length-1;i++){
    const ax=B(i),ay=YV(kVoltage[i]),bx=B(i+1),by=YV(kVoltage[i+1]);
    const d=Math.hypot(bx-ax,by-ay),ux=(bx-ax)/d,uy=(by-ay)/d;
    mk('line',{x1:ax+ux*9,y1:ay+uy*9,x2:bx-ux*9,y2:by-uy*9,stroke:'#4a5a9e','stroke-width':1.5},p.data,'voltage-line');
  }
  kVoltage.forEach((v,i)=>{
    mk('circle',{cx:B(i),cy:YV(v),r:6,fill:'url(#sphere)'},p.data,'voltage-point');
    const t=mk('text',{x:B(i)+(i===0?13.5:14),y:YV(v)+(i===2?12.5:15),'text-anchor':'middle',class:'tick'},p.g,'voltage-value-label');
    t.textContent=v.toFixed(3);
  });
})();

/* ---------- draw l ---------- */
(function(){
  const p=frame('l',790,1026.7,1028.7,839.7);
  const B=band(3,790,1026.7),Y=lin(0,100,1028.7,839.7),w=39;
  axisLeft(p,lTicks,Y,f0);
  axisBottom(p,[0,1,2],B,(v,i)=>lCategories[i],1047);
  lCategories.forEach((c,i)=>{
    const xc=B(i);
    mk('rect',{x:xc-w/2,y:Y(lValues[i]),width:w,height:Y(0)-Y(lValues[i]),fill:'url(#lTeal)'},p.data,'efficiency-bar');
    const t=mk('text',{x:xc,y:Y(lValues[i])-5,'text-anchor':'middle',class:'tick'},p.g,'efficiency-value-label');
    t.textContent=lValues[i].toFixed(1)+'%';
  });
})();
</script>
</body>
</html>
